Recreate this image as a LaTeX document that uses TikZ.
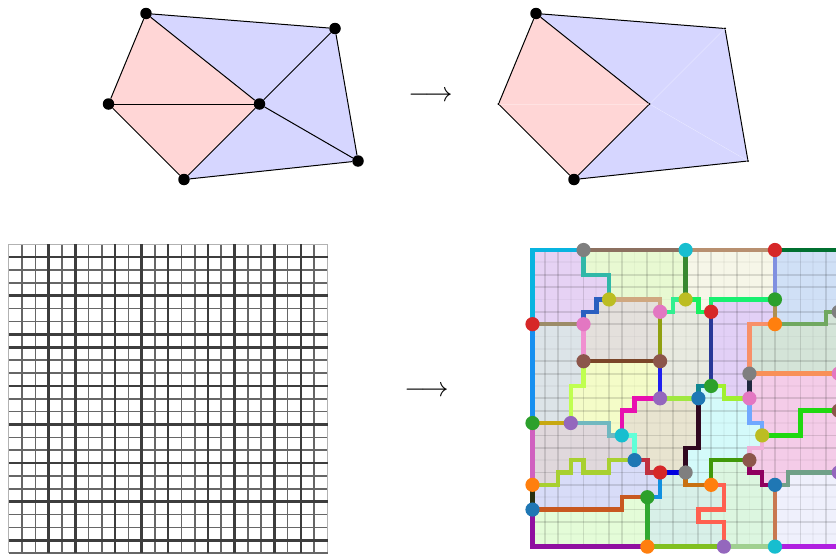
\documentclass[tikz,border=0pt]{standalone}
\pgfdeclarelayer{fillslayer}
\pgfdeclarelayer{gridlayer}
\pgfdeclarelayer{edgelayer}
\pgfsetlayers{fillslayer,gridlayer,edgelayer,main}
\definecolor{tblue}{HTML}{1F77B4}
\definecolor{torange}{HTML}{FF7F0E}
\definecolor{tgreen}{HTML}{2CA02C}
\definecolor{tred}{HTML}{D62728}
\definecolor{tpurple}{HTML}{9467BD}
\definecolor{tbrown}{HTML}{8C564B}
\definecolor{tpink}{HTML}{E377C2}
\definecolor{tgray}{HTML}{7F7F7F}
\definecolor{tolive}{HTML}{BCBD22}
\definecolor{tcyan}{HTML}{17BECF}
\definecolor{pinkface}{HTML}{FFD6D6}
\definecolor{blueface}{HTML}{D6D6FF}
\tikzset{
  bigdot/.style={circle,fill=black,inner sep=0pt,minimum size=11.5pt},
  tinydot/.style={circle,fill=black,inner sep=0pt,minimum size=2.4pt},
  meshedge/.style={black,line width=1pt},
  seamedge/.style={white,opacity=0.3,line width=0.5pt},
  regionnode/.style={circle,inner sep=0pt,minimum size=14.2pt},
  bound/.style={line width=4.4pt,miter limit=10},
  thinlineL/.style={line width=1.6pt,color=black!60},
  thicklineL/.style={line width=2.6pt,color=black!76},
  edgelineL/.style={line width=1.2pt,color=black!30},
  thinlineR/.style={line width=1.8pt,black,opacity=0.12},
  thicklineR/.style={line width=1.8pt,black,opacity=0.03},
  arrowglyph/.style={inner sep=0pt,scale=2.75}
}
\newcommand{\reg}[2]{\definecolor{tmpf}{HTML}{#1}\fill[tmpf] #2 -- cycle;}
\newcommand{\ed}[2]{\definecolor{tmpc}{HTML}{#1}\draw[bound,tmpc] #2;}
\begin{document}
\begin{tikzpicture}[x=1pt,y=-1pt]
\useasboundingbox (0,0) rectangle (836,554);

% ---- top left mesh
\node[bigdot] (a1) at (146,13.5) {};
\node[bigdot] (b1) at (335,28.5) {};
\node[bigdot] (c1) at (108.5,104) {};
\node[bigdot] (d1) at (259.5,104) {};
\node[bigdot] (e1) at (358,161) {};
\node[bigdot] (f1) at (184,179.5) {};
\begin{pgfonlayer}{fillslayer}
\fill[pinkface] (a1.center)--(c1.center)--(d1.center)--cycle;
\fill[pinkface] (c1.center)--(f1.center)--(d1.center)--cycle;
\fill[blueface] (a1.center)--(b1.center)--(d1.center)--cycle;
\fill[blueface] (b1.center)--(e1.center)--(d1.center)--cycle;
\fill[blueface] (e1.center)--(f1.center)--(d1.center)--cycle;
\end{pgfonlayer}
\begin{pgfonlayer}{edgelayer}
\draw[meshedge] (a1)--(b1);
\draw[meshedge] (b1)--(e1);
\draw[meshedge] (e1)--(f1);
\draw[meshedge] (f1)--(c1);
\draw[meshedge] (c1)--(a1);
\draw[meshedge] (a1)--(d1);
\draw[meshedge] (b1)--(d1);
\draw[meshedge] (c1)--(d1);
\draw[meshedge] (e1)--(d1);
\draw[meshedge] (f1)--(d1);
\end{pgfonlayer}

% ---- top right mesh
\node[bigdot] (a2) at (536,13.5) {};
\node[tinydot] (b2) at (725,28.5) {};
\node[tinydot] (c2) at (498.5,104) {};
\node[tinydot] (d2) at (649.5,104) {};
\node[tinydot] (e2) at (748,161) {};
\node[bigdot] (f2) at (574,179.5) {};
\begin{pgfonlayer}{fillslayer}
\fill[pinkface] (a2.center)--(c2.center)--(d2.center)--cycle;
\fill[pinkface] (c2.center)--(f2.center)--(d2.center)--cycle;
\fill[blueface] (a2.center)--(b2.center)--(d2.center)--cycle;
\fill[blueface] (b2.center)--(e2.center)--(d2.center)--cycle;
\fill[blueface] (e2.center)--(f2.center)--(d2.center)--cycle;
\end{pgfonlayer}
\begin{pgfonlayer}{edgelayer}
\draw[meshedge] (a2)--(b2);
\draw[meshedge] (b2)--(e2);
\draw[meshedge] (e2)--(f2);
\draw[meshedge] (f2)--(c2);
\draw[meshedge] (c2)--(a2);
\draw[meshedge] (a2)--(d2);
\draw[meshedge] (f2)--(d2);
\draw[seamedge] (c2)--(d2);
\draw[seamedge] (b2)--(d2);
\draw[seamedge] (e2)--(d2);
\end{pgfonlayer}

% ---- arrows
\node[arrowglyph] (arrowtop) at (430.5,96.2) {$\longrightarrow$};
\node[arrowglyph] (arrowbottom) at (426.5,391.7) {$\longrightarrow$};

% ---- bottom left weighted grid
\begin{scope}[shift={(8.8,244.3)},x=13.28pt,y=-12.87pt]
\foreach \i in {1,2,4,6,7,9,11,13,14,16,18,19,21,23}
  \draw[thinlineL] (\i,0)--(\i,24);
\foreach \j in {2,3,5,6,9,10,12,13,15,16,18,19,21,22}
  \draw[thinlineL] (0,\j)--(24,\j);
\draw[edgelineL] (0,0)--(24,0);
\draw[edgelineL] (0,0)--(0,24);
\draw[edgelineL] (24,0)--(24,24);
\draw[thinlineL] (0,24)--(24,24);
\foreach \i in {3,5,8,10,12,15,17,20,22}
  \draw[thicklineL] (\i,0)--(\i,24);
\foreach \j in {1,4,7,8,11,14,17,20,23}
  \draw[thicklineL] (0,\j)--(24,\j);
\end{scope}

% ---- bottom right partition
\begin{scope}[shift={(532.5,250)},x=12.76pt,y=-12.36pt]
\begin{pgfonlayer}{fillslayer}
\reg{E6D2F4}{(0,0)--(4,0)--(4,2)--(6,2)--(6,4)--(5,4)--(5,5)--(4,5)--(4,6)--(0,6)}
\reg{E8F9D2}{(4,0)--(12,0)--(12,4)--(11,4)--(11,5)--(10,5)--(10,4)--(6,4)--(6,2)--(4,2)}
\reg{F6F6E8}{(12,0)--(19,0)--(19,4)--(14,4)--(14,5)--(13,5)--(13,4)--(12,4)}
\reg{D0E0F6}{(19,0)--(24.2,0)--(24.2,5)--(23,5)--(23,6)--(19,6)}
\reg{E4E0DC}{(6,4)--(10,4)--(10,9)--(4,9)--(4,5)--(5,5)--(5,4)}
\reg{DCE4E8}{(0,6)--(4,6)--(4,11)--(3,11)--(3,14)--(0,14)}
\reg{F4FCC8}{(4,9)--(10,9)--(10,12)--(8,12)--(8,13)--(7,13)--(7,15)--(6,15)--(6,14)--(3,14)--(3,11)--(4,11)}
\reg{E8EAE0}{(10,5)--(11,5)--(11,4)--(13,4)--(13,5)--(14,5)--(14,11)--(13,11)--(13,12)--(10,12)}
\reg{E2D0F6}{(14,4)--(19,4)--(19,6)--(17,6)--(17,12)--(15,12)--(15,11)--(14,11)}
\reg{D4E4D8}{(17,6)--(23,6)--(23,5)--(24.2,5)--(24.2,10)--(17,10)}
\reg{F4CCE8}{(17,10)--(24.2,10)--(24.2,18)--(20,18)--(20,19)--(18,19)--(18,18)--(17,18)--(17,16)--(18,16)--(18,14)--(17,14)}
\reg{D4FAFA}{(13,11)--(15,11)--(15,12)--(17,12)--(17,14)--(18,14)--(18,16)--(17,16)--(17,17)--(14,17)--(14,19)--(12,19)--(12,16)--(13,16)}
\reg{E8E4D0}{(8,12)--(13,12)--(13,16)--(12,16)--(12,18)--(9,18)--(9,17)--(8,17)--(8,15)--(7,15)--(7,13)--(8,13)}
\reg{E0D8DC}{(0,14)--(6,14)--(6,15)--(8,15)--(8,17)--(6,17)--(6,18)--(4,18)--(4,17)--(3,17)--(3,18)--(2,18)--(2,19)--(0,19)}
\reg{D8DCF8}{(0,19)--(2,19)--(2,18)--(3,18)--(3,17)--(4,17)--(4,18)--(6,18)--(6,17)--(9,17)--(9,18)--(10,18)--(10,20)--(7,20)--(7,21)--(0,21)}
\reg{E4FCD8}{(0,21)--(7,21)--(7,20)--(9,20)--(9,24)--(0,24)}
\reg{D8F0E8}{(9,20)--(10,20)--(10,18)--(12,18)--(12,19)--(15,19)--(15,21)--(13,21)--(13,22)--(15,22)--(15,24)--(9,24)}
\reg{DCF6E0}{(14,19)--(14,17)--(17,17)--(17,18)--(18,18)--(18,19)--(19,19)--(19,24)--(15,24)--(15,22)--(13,22)--(13,21)--(15,21)--(15,19)}
\reg{EFF0FC}{(19,19)--(20,19)--(20,18)--(24.2,18)--(24.2,24)--(19,24)}
\end{pgfonlayer}
\begin{pgfonlayer}{gridlayer}
\foreach \i in {1,2,4,6,7,9,11,13,14,16,18,19,21,23}
  \draw[thinlineR] (\i,0)--(\i,24);
\foreach \j in {2,3,5,6,9,10,12,13,15,16,18,19,21,22}
  \draw[thinlineR] (0,\j)--(24.2,\j);
\foreach \i in {3,5,8,10,12,15,17,20,22}
  \draw[thicklineR] (\i,0)--(\i,24);
\foreach \j in {1,4,7,8,11,14,17,20,23}
  \draw[thicklineR] (0,\j)--(24.2,\j);
\end{pgfonlayer}

% region corner nodes
\node[regionnode,fill=tgray]   (v4-0)   at (4,0) {};
\node[regionnode,fill=tcyan]   (v12-0)  at (12,0) {};
\node[regionnode,fill=tred]    (v19-0)  at (19,0) {};
\node[regionnode,fill=tolive]  (v6-4)   at (6,4) {};
\node[regionnode,fill=tolive]  (v12-4)  at (12,4) {};
\node[regionnode,fill=tgreen]  (v19-4)  at (19,4) {};
\node[regionnode,fill=tpink]   (v10-5)  at (10,5) {};
\node[regionnode,fill=tred]    (v14-5)  at (14,5) {};
\node[regionnode,fill=tgray]   (v24-5)  at (24,5) {};
\node[regionnode,fill=tred]    (v0-6)   at (0,6) {};
\node[regionnode,fill=tpink]   (v4-6)   at (4,6) {};
\node[regionnode,fill=torange] (v19-6)  at (19,6) {};
\node[regionnode,fill=tbrown]  (v4-9)   at (4,9) {};
\node[regionnode,fill=tbrown]  (v10-9)  at (10,9) {};
\node[regionnode,fill=tgray]   (v17-10) at (17,10) {};
\node[regionnode,fill=tpink]   (v24-10) at (24,10) {};
\node[regionnode,fill=tgreen]  (v14-11) at (14,11) {};
\node[regionnode,fill=tpurple] (v10-12) at (10,12) {};
\node[regionnode,fill=tblue]   (v13-12) at (13,12) {};
\node[regionnode,fill=tpink]   (v17-12) at (17,12) {};
\node[regionnode,fill=tbrown]  (v24-13) at (24,13) {};
\node[regionnode,fill=tgreen]  (v0-14)  at (0,14) {};
\node[regionnode,fill=tpurple] (v3-14)  at (3,14) {};
\node[regionnode,fill=tcyan]   (v7-15)  at (7,15) {};
\node[regionnode,fill=tolive]  (v18-15) at (18,15) {};
\node[regionnode,fill=tblue]   (v8-17)  at (8,17) {};
\node[regionnode,fill=tbrown]  (v17-17) at (17,17) {};
\node[regionnode,fill=tred]    (v10-18) at (10,18) {};
\node[regionnode,fill=tgray]   (v12-18) at (12,18) {};
\node[regionnode,fill=tpurple] (v24-18) at (24,18) {};
\node[regionnode,fill=torange] (v0-19)  at (0,19) {};
\node[regionnode,fill=torange] (v14-19) at (14,19) {};
\node[regionnode,fill=tblue]   (v19-19) at (19,19) {};
\node[regionnode,fill=tgreen]  (v9-20)  at (9,20) {};
\node[regionnode,fill=tblue]   (v0-21)  at (0,21) {};
\node[regionnode,fill=torange] (v9-24)  at (9,24) {};
\node[regionnode,fill=tpurple] (v15-24) at (15,24) {};
\node[regionnode,fill=tcyan]   (v19-24) at (19,24) {};

\begin{pgfonlayer}{edgelayer}
\ed{08B4E0}{(v0-6.center)--(0,0)--(v4-0.center)}
\ed{8C7060}{(v4-0.center)--(v12-0.center)}
\ed{30B8A8}{(v4-0.center)--(4,2)--(6,2)--(v6-4.center)}
\ed{2A5FC0}{(v6-4.center)--(5,4)--(5,5)--(4,5)--(v4-6.center)}
\ed{D0A880}{(v6-4.center)--(10,4)--(v10-5.center)}
\ed{9C8C68}{(v0-6.center)--(v4-6.center)}
\ed{F090D0}{(v4-6.center)--(v4-9.center)}
\ed{7A4528}{(v4-9.center)--(v10-9.center)}
\ed{90A010}{(v10-5.center)--(v10-9.center)}
\ed{2020F0}{(v10-9.center)--(v10-12.center)}
\ed{C0FF50}{(v4-9.center)--(4,11)--(3,11)--(v3-14.center)}
\ed{1890F0}{(v0-6.center)--(v0-14.center)}
\ed{C8A810}{(v0-14.center)--(v3-14.center)}
\ed{70B8C0}{(v3-14.center)--(6,14)--(6,15)--(v7-15.center)}
\ed{60FFD8}{(v7-15.center)--(8,15)--(v8-17.center)}
\ed{E810B0}{(v7-15.center)--(7,13)--(8,13)--(8,12)--(v10-12.center)}
\ed{A8D030}{(v8-17.center)--(6,17)--(6,18)--(4,18)--(4,17)--(3,17)--(3,18)--(2,18)--(2,19)--(v0-19.center)}
\ed{D060C0}{(v0-14.center)--(v0-19.center)}
\ed{283010}{(v0-19.center)--(v0-21.center)}
\ed{9010A0}{(v0-21.center)--(0,24)--(v9-24.center)}
\ed{C85820}{(v0-21.center)--(7,21)--(7,20)--(v9-20.center)}
\ed{C03040}{(v8-17.center)--(9,17)--(9,18)--(v10-18.center)}
\ed{1090E0}{(v10-18.center)--(10,20)--(v9-20.center)}
\ed{30A830}{(v9-20.center)--(v9-24.center)}
\ed{0000E0}{(v10-18.center)--(v12-18.center)}
\ed{300820}{(v13-12.center)--(13,16)--(12,16)--(v12-18.center)}
\ed{A0E840}{(v10-12.center)--(v13-12.center)}
\ed{C87010}{(v12-18.center)--(12,19)--(v14-19.center)}
\ed{409808}{(v14-19.center)--(14,17)--(v17-17.center)}
\ed{FF6050}{(v14-19.center)--(15,19)--(15,21)--(13,21)--(13,22)--(15,22)--(v15-24.center)}
\ed{80C020}{(v9-24.center)--(v15-24.center)}
\ed{A0D090}{(v15-24.center)--(v19-24.center)}
\ed{B020E0}{(v19-24.center)--(24.2,24)}
\ed{C87850}{(v19-19.center)--(v19-24.center)}
\ed{900060}{(v17-17.center)--(17,18)--(18,18)--(18,19)--(v19-19.center)}
\ed{70A088}{(v19-19.center)--(20,19)--(20,18)--(v24-18.center)}
\ed{F0B0D8}{(v17-17.center)--(17,16)--(18,16)--(v18-15.center)}
\ed{70A8FF}{(v18-15.center)--(18,14)--(17,14)--(v17-12.center)}
\ed{20D810}{(v18-15.center)--(21,15)--(21,13)--(v24-13.center)}
\ed{A0F030}{(v17-12.center)--(15,12)--(15,11)--(v14-11.center)}
\ed{108890}{(v14-11.center)--(13,11)--(v13-12.center)}
\ed{283898}{(v14-5.center)--(v14-11.center)}
\ed{30F090}{(v10-5.center)--(11,5)--(11,4)--(v12-4.center)}
\ed{18F060}{(v12-4.center)--(13,4)--(13,5)--(v14-5.center)}
\ed{18F070}{(v14-5.center)--(14,4)--(v19-4.center)}
\ed{388830}{(v12-0.center)--(v12-4.center)}
\ed{B89070}{(v12-0.center)--(v19-0.center)}
\ed{007030}{(v19-0.center)--(24.2,0)}
\ed{8090E0}{(v19-0.center)--(v19-4.center)}
\ed{B09050}{(v19-4.center)--(v19-6.center)}
\ed{F89068}{(v19-6.center)--(17,6)--(v17-10.center)}
\ed{70A860}{(v19-6.center)--(23,6)--(23,5)--(v24-5.center)}
\ed{F89058}{(v17-10.center)--(v24-10.center)}
\ed{202840}{(v17-10.center)--(v17-12.center)}
\end{pgfonlayer}
\end{scope}
\end{tikzpicture}
\end{document}
